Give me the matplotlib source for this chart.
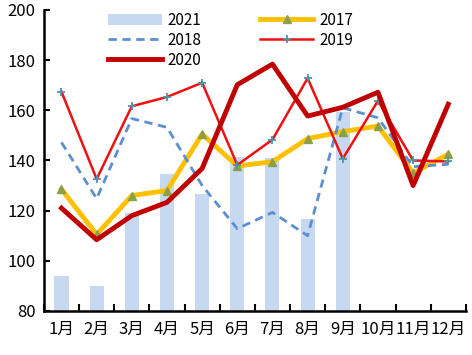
import matplotlib
matplotlib.use('Agg')
import matplotlib.pyplot as plt
import numpy as np

plt.rcParams['font.family'] = ['Noto Sans CJK SC', 'DejaVu Sans']

# 数据
months = ['1月', '2月', '3月', '4月', '5月', '6月', '7月', '8月', '9月', '10月', '11月', '12月']
y2021 = [94, 90, 119, 134.5, 126.5, 141.5, 141, 116.5, 159.5]
y2017 = [128.5, 110.5, 126, 128, 150.5, 137.8, 139.5, 148.7, 151.5, 153.7, 135, 142.5]
y2018 = [147.2, 124.8, 156.7, 153.2, 130, 112.8, 119.3, 110, 161, 157, 137.5, 138.5]
y2019 = [167.4, 132.6, 161.6, 165.3, 171, 138.2, 148.3, 172.8, 140.7, 163.8, 140, 139.6]
y2020 = [121, 108.4, 118, 123.3, 136.8, 170.2, 178.4, 157.7, 161.2, 167.2, 130, 162.4]

x = np.arange(len(months))

fig = plt.figure(figsize=(4.72, 3.55), dpi=100)
ax = fig.add_axes([0.093, 0.124, 0.894, 0.848])

b = ax.bar(x[:len(y2021)], [v - 80 for v in y2021], bottom=80, width=0.4,
           color='#C6D9F1', label='2021', zorder=1)
l17, = ax.plot(x, y2017, color='#FFC000', lw=3.5, marker='^', ms=6,
               mfc='#8CA04A', mec='#8CA04A', label='2017', zorder=2)
l18, = ax.plot(x, y2018, color='#5B8FD0', lw=2, ls=(0, (3, 2)), label='2018', zorder=3)
l19, = ax.plot(x, y2019, color='#EE1111', lw=1.8, marker='+', ms=6, mew=1.3,
               mec='#4F93A8', label='2019', zorder=4)
l20, = ax.plot(x, y2020, color='#C00000', lw=3.5, label='2020', zorder=5)

ax.set_xlim(-0.5, 11.5)
ax.set_ylim(80, 200)
ax.set_yticks(range(80, 201, 20))
ax.set_xticks(x)
ax.set_xticklabels(months)
ax.set_xticks(np.arange(-0.5, 12, 1), minor=True)
ax.tick_params(axis='x', which='major', length=0, labelsize=12, pad=7)
ax.tick_params(axis='x', which='minor', length=5, width=1.5, direction='in')
ax.tick_params(axis='y', length=4, width=1.5, direction='in', labelsize=12, pad=6)
for s in ['top', 'right']:
    ax.spines[s].set_visible(False)
for s in ['left', 'bottom']:
    ax.spines[s].set_linewidth(1.8)

ax.legend([b, l18, l20, l17, l19], ['2021', '2018', '2020', '2017', '2019'],
          ncol=2, loc='upper left', bbox_to_anchor=(0.12, 1.04), frameon=False,
          fontsize=11, handlelength=3.5, handletextpad=0.4, columnspacing=3.8,
          labelspacing=0.2)

fig.savefig('out.png', dpi=100)
